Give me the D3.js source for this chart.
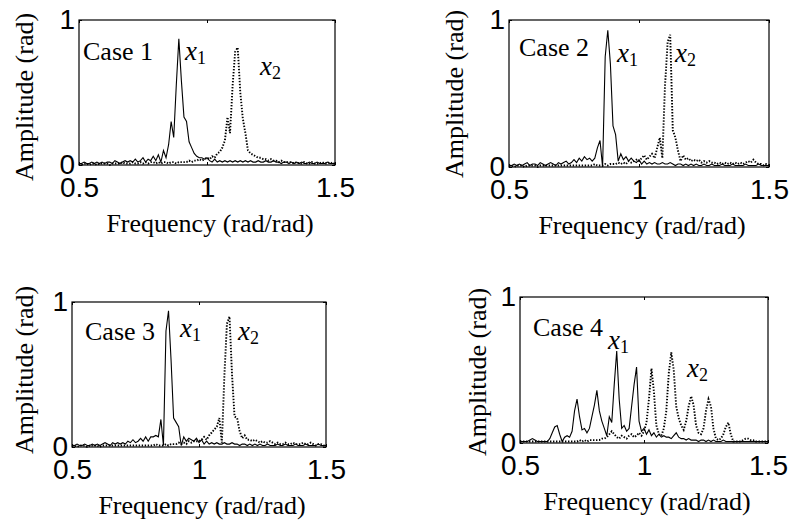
<!DOCTYPE html>
<html><head><meta charset="utf-8">
<script src="https://cdn.jsdelivr.net/npm/d3@7"></script>
<style>body{margin:0;background:#fff}svg{display:block}</style>
</head><body>
<script>
// frequency sample grid 0.50 .. 1.50 (step 0.01)
const freq = d3.range(0, 101).map(i => +(0.5 + i * 0.01).toFixed(2));
const xTicks = [0.5, 1, 1.5];
const yTicks = [0, 1];
const caseLabels = ["Case 1", "Case 2", "Case 3", "Case 4"];
const xLabel = "Frequency (rad/rad)";
const yLabel = "Amplitude (rad)";

const case1_x1 = [
0.01,0.01,0.02,0.01,0.01,0.02,0.01,0.02,0.01,0.02,
0.01,0.02,0.02,0.01,0.03,0.02,0.01,0.02,0.03,0.02,
0.03,0.02,0.04,0.02,0.03,0.05,0.02,0.04,0.03,0.06,
0.03,0.07,0.02,0.10,0.05,0.14,0.30,0.19,0.55,0.87,
0.58,0.33,0.30,0.16,0.12,0.08,0.06,0.05,0.05,0.04,
0.05,0.03,0.02,0.04,0.02,0.03,0.02,0.03,0.02,0.03,
0.02,0.03,0.02,0.03,0.02,0.03,0.02,0.03,0.02,0.02,
0.03,0.02,0.02,0.03,0.02,0.02,0.03,0.02,0.02,0.01,
0.02,0.02,0.01,0.02,0.01,0.02,0.01,0.02,0.01,0.01,
0.02,0.01,0.01,0.02,0.01,0.01,0.01,0.02,0.01,0.01,0.01];
const case1_x2 = [
0.01,0.00,0.01,0.01,0.00,0.01,0.01,0.00,0.01,0.01,
0.01,0.01,0.00,0.01,0.01,0.01,0.01,0.02,0.01,0.01,
0.01,0.02,0.01,0.01,0.02,0.01,0.02,0.01,0.02,0.02,
0.01,0.02,0.01,0.02,0.02,0.01,0.02,0.02,0.01,0.02,
0.02,0.02,0.02,0.03,0.02,0.03,0.03,0.04,0.03,0.04,
0.05,0.04,0.06,0.05,0.08,0.09,0.12,0.17,0.33,0.22,
0.55,0.78,0.81,0.50,0.32,0.22,0.10,0.08,0.07,0.06,
0.05,0.05,0.04,0.04,0.03,0.04,0.03,0.03,0.02,0.03,
0.02,0.02,0.02,0.02,0.01,0.02,0.01,0.01,0.02,0.01,
0.01,0.02,0.01,0.01,0.01,0.02,0.01,0.01,0.02,0.01,0.01];
const case2_x1 = [
0.01,0.01,0.02,0.01,0.02,0.01,0.02,0.03,0.01,0.02,
0.02,0.01,0.03,0.02,0.01,0.02,0.03,0.02,0.01,0.03,
0.02,0.03,0.04,0.02,0.03,0.05,0.03,0.06,0.04,0.07,
0.05,0.06,0.04,0.06,0.13,0.18,0.00,0.75,0.93,0.70,
0.28,0.22,0.04,0.09,0.05,0.07,0.04,0.06,0.04,0.03,
0.05,0.02,0.04,0.02,0.03,0.02,0.03,0.02,0.02,0.03,
0.02,0.02,0.03,0.02,0.01,0.02,0.02,0.01,0.02,0.01,
0.02,0.01,0.02,0.01,0.01,0.02,0.01,0.01,0.02,0.01,
0.01,0.01,0.02,0.01,0.01,0.01,0.02,0.01,0.01,0.01,
0.01,0.02,0.01,0.01,0.01,0.01,0.02,0.01,0.01,0.01,0.01];
const case2_x2 = [
0.01,0.01,0.00,0.01,0.01,0.01,0.00,0.01,0.01,0.01,
0.01,0.00,0.01,0.01,0.01,0.01,0.01,0.01,0.01,0.01,
0.01,0.01,0.01,0.01,0.01,0.01,0.01,0.01,0.01,0.01,
0.01,0.01,0.01,0.02,0.01,0.01,0.01,0.02,0.01,0.02,
0.02,0.02,0.03,0.02,0.03,0.02,0.04,0.03,0.04,0.05,
0.04,0.06,0.08,0.05,0.07,0.09,0.06,0.13,0.20,0.06,
0.55,0.85,0.90,0.25,0.20,0.11,0.04,0.08,0.05,0.06,
0.04,0.05,0.04,0.05,0.03,0.04,0.03,0.04,0.03,0.03,
0.02,0.03,0.02,0.03,0.02,0.03,0.02,0.03,0.02,0.03,
0.02,0.03,0.04,0.03,0.05,0.03,0.02,0.02,0.01,0.02,0.01];
const case3_x1 = [
0.01,0.01,0.02,0.01,0.01,0.02,0.01,0.01,0.02,0.01,
0.02,0.01,0.02,0.03,0.02,0.01,0.03,0.02,0.03,0.02,
0.03,0.02,0.04,0.03,0.05,0.03,0.04,0.06,0.04,0.07,
0.04,0.07,0.07,0.08,0.07,0.19,0.01,0.80,0.94,0.60,
0.20,0.17,0.14,0.01,0.07,0.04,0.06,0.05,0.04,0.06,
0.03,0.05,0.02,0.04,0.02,0.03,0.02,0.03,0.02,0.02,
0.03,0.02,0.02,0.03,0.02,0.02,0.01,0.02,0.02,0.01,
0.02,0.01,0.02,0.01,0.02,0.01,0.01,0.02,0.01,0.01,
0.01,0.02,0.01,0.01,0.02,0.01,0.01,0.01,0.02,0.01,
0.01,0.01,0.02,0.01,0.01,0.01,0.01,0.02,0.01,0.01,0.01];
const case3_x2 = [
0.01,0.01,0.00,0.01,0.01,0.01,0.00,0.01,0.01,0.01,
0.01,0.00,0.01,0.01,0.01,0.01,0.01,0.01,0.01,0.01,
0.01,0.01,0.01,0.01,0.01,0.01,0.01,0.01,0.01,0.01,
0.01,0.01,0.01,0.02,0.01,0.01,0.01,0.02,0.01,0.02,
0.02,0.02,0.03,0.02,0.03,0.02,0.04,0.03,0.04,0.04,
0.04,0.05,0.07,0.05,0.08,0.10,0.12,0.14,0.20,0.03,
0.50,0.85,0.90,0.50,0.21,0.20,0.11,0.06,0.08,0.05,
0.05,0.04,0.05,0.04,0.03,0.04,0.03,0.03,0.04,0.03,
0.02,0.03,0.02,0.02,0.03,0.02,0.02,0.03,0.02,0.02,
0.02,0.03,0.02,0.02,0.03,0.02,0.01,0.02,0.02,0.01,0.01];
const case4_x1 = [
0.01,0.01,0.01,0.01,0.02,0.03,0.02,0.01,0.01,0.01,
0.01,0.01,0.03,0.07,0.11,0.12,0.06,0.01,0.04,0.05,
0.04,0.08,0.22,0.30,0.18,0.09,0.10,0.07,0.10,0.18,
0.26,0.36,0.22,0.15,0.10,0.05,0.18,0.14,0.40,0.63,
0.30,0.10,0.12,0.08,0.10,0.25,0.40,0.52,0.15,0.08,
0.10,0.06,0.09,0.05,0.07,0.04,0.06,0.04,0.05,0.04,
0.04,0.03,0.05,0.07,0.04,0.03,0.03,0.02,0.03,0.02,
0.02,0.02,0.01,0.02,0.02,0.01,0.02,0.01,0.02,0.01,
0.01,0.01,0.02,0.01,0.01,0.01,0.01,0.01,0.01,0.01,
0.01,0.01,0.01,0.01,0.01,0.01,0.01,0.01,0.01,0.01,0.01];
const case4_x2 = [
0.01,0.01,0.01,0.01,0.01,0.01,0.01,0.01,0.01,0.01,
0.01,0.01,0.01,0.01,0.01,0.01,0.01,0.01,0.01,0.01,
0.01,0.01,0.01,0.01,0.02,0.01,0.02,0.01,0.02,0.02,
0.02,0.02,0.02,0.03,0.03,0.04,0.06,0.08,0.06,0.04,
0.03,0.05,0.04,0.03,0.05,0.06,0.04,0.05,0.07,0.05,
0.08,0.14,0.30,0.51,0.35,0.12,0.06,0.05,0.10,0.22,
0.48,0.62,0.50,0.25,0.17,0.12,0.09,0.15,0.25,0.32,
0.26,0.12,0.07,0.06,0.10,0.22,0.30,0.25,0.10,0.03,
0.02,0.03,0.06,0.11,0.14,0.06,0.01,0.01,0.01,0.01,
0.02,0.03,0.03,0.02,0.02,0.01,0.01,0.01,0.01,0.01,0.01];

const seriesX1 = [case1_x1, case2_x1, case3_x1, case4_x1];
const seriesX2 = [case1_x2, case2_x2, case3_x2, case4_x2];

// layout (pixel boxes and label placements)
const layout = [
  {l:79,  r:335, t:20,  b:165, ylx:33,  yly:97,
   cas:[83,60], x1:[185,60], x2:[260,75]},
  {l:509, r:769, t:20,  b:167, ylx:463, yly:94,
   cas:[519,56], x1:[617,62], x2:[675,62]},
  {l:72,  r:326, t:302, b:447, ylx:33,  yly:370,
   cas:[85,340], x1:[180,337], x2:[238,340]},
  {l:520, r:768, t:297, b:443, ylx:486, yly:372,
   cas:[533,336], x1:[608,349], x2:[687,377]}
];

const SERIF = "'Liberation Serif','Times New Roman',serif";
const SANS = "'Liberation Sans',Arial,sans-serif";

const svg = d3.select("body").append("svg")
  .attr("width", 792).attr("height", 520);

layout.forEach((p, k) => {
  const x = d3.scaleLinear().domain([0.5, 1.5]).range([p.l, p.r]);
  const y = d3.scaleLinear().domain([0, 1]).range([p.b, p.t]);
  const g = svg.append("g");

  const styleAxis = sel => {
    sel.select(".domain").remove();
    sel.selectAll("line").attr("stroke", "#000");
    sel.selectAll("text").attr("font-family", SANS).attr("font-size", 28).attr("fill", "#000");
  };
  g.append("g").attr("transform", `translate(0,${p.b})`)
    .call(d3.axisBottom(x).tickValues(xTicks).tickFormat(d3.format("")).tickSize(-3).tickPadding(12))
    .call(styleAxis);
  g.append("g").attr("transform", `translate(0,${p.t})`)
    .call(d3.axisTop(x).tickValues(xTicks).tickFormat("").tickSize(-3))
    .call(styleAxis);
  g.append("g").attr("transform", `translate(${p.l},0)`)
    .call(d3.axisLeft(y).tickValues(yTicks).tickFormat(d3.format("d")).tickSize(-3).tickPadding(4))
    .call(styleAxis);
  g.append("g").attr("transform", `translate(${p.r},0)`)
    .call(d3.axisRight(y).tickValues(yTicks).tickFormat("").tickSize(-3))
    .call(styleAxis);

  const line = d3.line().x((d, i) => x(freq[i])).y(d => y(d));
  g.append("path").datum(seriesX2[k]).attr("d", line)
    .attr("fill", "none").attr("stroke", "#000").attr("stroke-width", 1.9)
    .attr("stroke-dasharray", "1.4,1.6");
  g.append("path").datum(seriesX1[k]).attr("d", line)
    .attr("fill", "none").attr("stroke", "#000").attr("stroke-width", 1.1);

  g.append("rect").attr("x", p.l).attr("y", p.t)
    .attr("width", p.r - p.l).attr("height", p.b - p.t)
    .attr("fill", "none").attr("stroke", "#000").attr("stroke-width", 1.2);

  // axis titles
  g.append("text").attr("transform", `translate(${p.ylx},${p.yly}) rotate(-90)`)
    .attr("text-anchor", "middle").attr("font-family", SERIF).attr("font-size", 26)
    .text(yLabel);
  g.append("text").attr("x", (p.l + p.r) / 2 + 3).attr("y", p.b + 67)
    .attr("text-anchor", "middle").attr("font-family", SERIF).attr("font-size", 26)
    .text(xLabel);

  // annotations
  g.append("text").attr("x", p.cas[0]).attr("y", p.cas[1])
    .attr("font-family", SERIF).attr("font-size", 26).text(caseLabels[k]);
  [[p.x1, "1"], [p.x2, "2"]].forEach(([pos, sub]) => {
    const t = g.append("text").attr("x", pos[0]).attr("y", pos[1])
      .attr("font-family", SERIF).attr("font-size", 27);
    t.append("tspan").attr("font-style", "italic").text("x");
    t.append("tspan").attr("font-size", 18).attr("dy", 4).text(sub);
  });
});
</script>
</body></html>
